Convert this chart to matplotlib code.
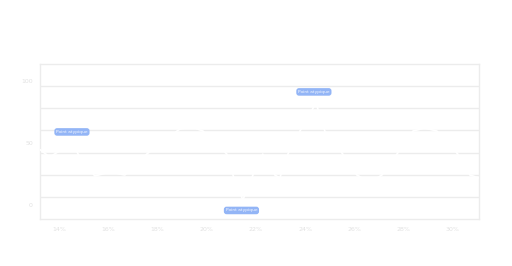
import numpy as np
import matplotlib
matplotlib.use('Agg')
import matplotlib.pyplot as plt

# --- data (x in %, y value) ---
x_vals = [13.25, 13.63, 14.53, 14.85, 15.46, 16.07, 16.68, 17.57, 18.30, 18.91,
          19.40, 19.85, 20.82, 21.07, 21.47, 21.88, 22.28, 22.77, 22.97, 23.30,
          23.79, 24.44, 24.80, 25.53, 26.10, 26.63, 27.12, 27.73, 28.38, 28.86,
          29.35, 30.20, 30.69, 31.06]
y_vals = [44.4, 38.7, 50.0, 38.7, 23.4, 26.6, 24.2, 41.1, 52.4, 61.3,
          62.9, 59.7, 41.1, 24.2, 4.0, 24.2, 41.1, 24.2, 21.8, 41.1,
          59.7, 82.3, 59.7, 41.1, 24.2, 18.5, 24.2, 41.1, 59.7, 62.1,
          59.7, 41.1, 24.2, 21.8]

outlier_idx = [2, 14, 21]
outlier_label = "Point atypique"
outlier_offsets = [(0, 8), (-1, -7.5), (-1.5, 8)]

x_ticks = [14, 16, 18, 20, 22, 24, 26, 28, 30]
y_ticks = [0, 50, 100]
x_lim = (13.23, 31.06)
y_lim = (-11.3, 113.7)

grid_color = '#ececec'
text_color = '#e2e2e2'
pill_color = '#93b5f6'

fig = plt.figure(figsize=(5.12, 2.66), dpi=100)
ax = fig.add_axes([0.078, 0.1767, 0.8575, 0.5823])

ax.plot(x_vals, y_vals, color='white', linewidth=1.2, zorder=3)

for i, (dx, dy) in zip(outlier_idx, outlier_offsets):
    ax.annotate(outlier_label, (x_vals[i], y_vals[i]), xytext=(dx, dy),
                textcoords='offset points', ha='center', va='center',
                fontsize=3.2, color='#f4f7ff', zorder=5,
                bbox=dict(boxstyle='round,pad=0.4,rounding_size=0.6',
                          fc=pill_color, ec='none'))

ax.set_xlim(*x_lim)
ax.set_ylim(*y_lim)
ax.set_xticks(x_ticks)
ax.set_xticklabels([f'{v}%' for v in x_ticks])
ax.set_yticks(y_ticks)
ax.set_yticks(np.linspace(y_lim[0], y_lim[1], 8)[1:-1], minor=True)
ax.tick_params(axis='both', which='both', length=0, labelsize=4.5,
               colors=text_color, pad=6)
ax.tick_params(axis='y', pad=5)
ax.grid(True, which='minor', axis='y', color=grid_color, linewidth=1)
ax.grid(False, which='major')

for spine in ax.spines.values():
    spine.set_color(grid_color)
    spine.set_linewidth(1)

fig.savefig('out.png', dpi=100)
